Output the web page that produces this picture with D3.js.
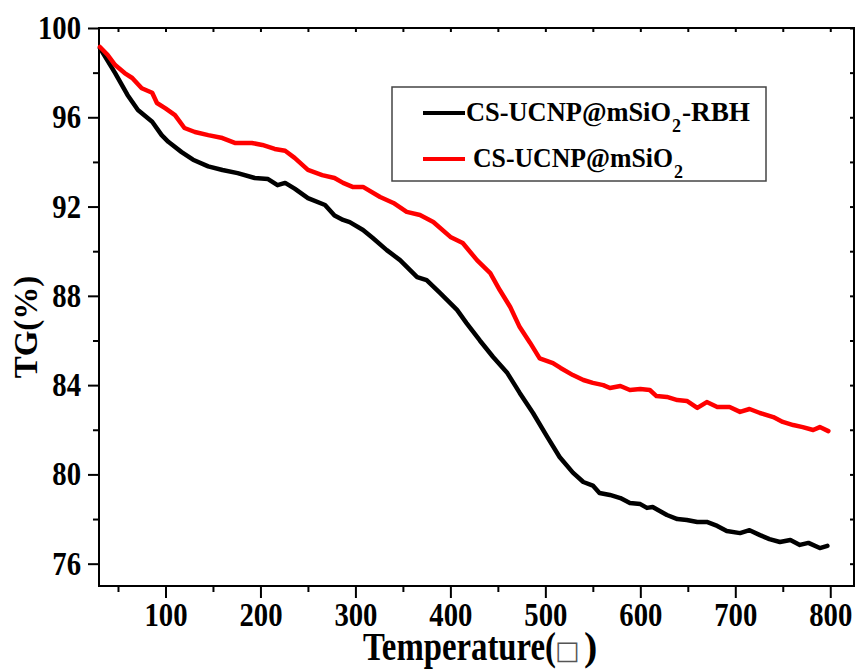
<!DOCTYPE html>
<html>
<head>
<meta charset="utf-8">
<script src="https://cdn.jsdelivr.net/npm/d3@7"></script>
<style>
  body { margin: 0; background: #fff; }
  svg { display: block; }
</style>
</head>
<body>
<svg id="chart" width="858" height="670"></svg>
<script>
// temperature (C) and TG (%)
const tempRBH = [31, 47, 60, 71, 86, 96, 103, 117, 129, 145, 160, 176, 194, 208, 218, 226, 236, 250, 268, 278, 287,
  294, 308, 318, 333, 347, 365, 375, 389, 407, 417, 431, 445, 460, 473, 487, 502, 515, 529, 540, 550, 557, 568, 579,
  589, 600, 607, 613, 628, 639, 649, 660, 670, 681, 691, 705, 715, 726, 736, 747, 758, 768, 777, 789, 797];
const tgRBH = [99.1, 97.98, 97.0, 96.33, 95.8, 95.2, 94.9, 94.44, 94.1, 93.8, 93.64, 93.5, 93.28, 93.23, 92.96, 93.06, 92.8, 92.38, 92.07, 91.6, 91.4,
  91.3, 90.95, 90.6, 90.05, 89.6, 88.84, 88.7, 88.13, 87.37, 86.78, 86.0, 85.26, 84.54, 83.65, 82.75, 81.68, 80.78, 80.08, 79.66, 79.5, 79.17, 79.08, 78.94,
  78.72, 78.67, 78.5, 78.54, 78.18, 78.0, 77.96, 77.87, 77.87, 77.69, 77.46, 77.37, 77.5, 77.28, 77.1, 76.97, 77.06, 76.84, 76.93, 76.7, 76.8];

const tempSiO2 = [31, 39, 47, 57, 65, 75, 86, 91, 100, 110, 120, 131, 145, 160, 173, 191, 202, 215, 226, 236, 250, 265, 278, 287,
  297, 308, 326, 340, 354, 368, 382, 400, 413, 428, 442, 452, 463, 473, 484, 494, 508, 516, 529, 540, 550, 561, 568, 579, 589,
  600, 610, 617, 628, 639, 649, 660, 670, 681, 694, 705, 715, 726, 740, 750, 761, 771, 782, 789, 798];
const tgSiO2 = [99.15, 98.8, 98.34, 97.98, 97.76, 97.3, 97.1, 96.64, 96.4, 96.1, 95.52, 95.34, 95.2, 95.07, 94.85, 94.85, 94.76, 94.58, 94.5, 94.18, 93.64, 93.41, 93.28, 93.06,
  92.88, 92.88, 92.43, 92.16, 91.76, 91.62, 91.31, 90.64, 90.37, 89.6, 89.02, 88.26, 87.5, 86.6, 85.89, 85.2, 84.99, 84.77, 84.45, 84.23, 84.1, 84.0, 83.87, 83.96, 83.78,
  83.83, 83.78, 83.51, 83.47, 83.33, 83.29, 82.98, 83.24, 83.02, 83.02, 82.8, 82.93, 82.75, 82.57, 82.35, 82.21, 82.12, 81.99, 82.12, 81.94];

const seriesNames = ["CS-UCNP@mSiO2-RBH", "CS-UCNP@mSiO2"];
const seriesColors = ["#000000", "#ff0000"];

const xMajor = [100, 200, 300, 400, 500, 600, 700, 800];
const xMinor = [50, 150, 250, 350, 450, 550, 650, 750];
const yMajor = [76, 80, 84, 88, 92, 96, 100];
const yMinor = [78, 82, 86, 90, 94, 98];

const FONT = "'Liberation Serif', 'Times New Roman', Times, serif";

const margin = {left: 99, top: 28, right: 4, bottom: 84};
const width = 858 - margin.left - margin.right;
const height = 670 - margin.top - margin.bottom;

const svg = d3.select("#chart");
const g = svg.append("g").attr("transform", `translate(${margin.left},${margin.top})`);

const x = d3.scaleLinear().domain([30, 825]).range([0, width]);
const y = d3.scaleLinear().domain([75, 100]).range([height, 0]);

// squeeze text horizontally like the original export
function squeeze(sel, k) {
    sel.each(function() {
        const w = this.getComputedTextLength();
        d3.select(this).attr("textLength", w * k).attr("lengthAdjust", "spacingAndGlyphs");
    });
}

function styleAxis(ax) {
    ax.attr("font-family", null).attr("font-size", null);
    ax.select(".domain").remove();
    ax.selectAll("line").attr("stroke", "#000").attr("stroke-width", 2);
    ax.selectAll("text")
        .style("font-family", FONT).style("font-weight", "bold")
        .style("font-size", "33px").attr("fill", "#000");
}

// bottom axis
const gx = g.append("g").attr("transform", `translate(0,${height})`)
    .call(d3.axisBottom(x).tickValues(xMajor).tickSize(12).tickPadding(5).tickFormat(d3.format("d")));
styleAxis(gx);
gx.selectAll("text").call(squeeze, 0.87);
const gxm = g.append("g").attr("transform", `translate(0,${height})`)
    .call(d3.axisBottom(x).tickValues(xMinor).tickSize(6).tickFormat(""));
styleAxis(gxm);

// left axis
const gy = g.append("g")
    .call(d3.axisLeft(y).tickValues(yMajor).tickSize(11).tickPadding(7).tickFormat(d3.format("d")));
styleAxis(gy);
gy.selectAll("text").call(squeeze, 0.87);
const gym = g.append("g")
    .call(d3.axisLeft(y).tickValues(yMinor).tickSize(6).tickFormat(""));
styleAxis(gym);

// top and right: small inward ticks
const gt = g.append("g")
    .call(d3.axisTop(x).tickValues(xMajor.concat(xMinor)).tickSize(-4).tickFormat(""));
styleAxis(gt);
const gr = g.append("g").attr("transform", `translate(${width},0)`)
    .call(d3.axisRight(y).tickValues(yMajor.concat(yMinor)).tickSize(-4).tickFormat(""));
styleAxis(gr);

// frame
g.append("rect")
    .attr("width", width).attr("height", height)
    .attr("fill", "none").attr("stroke", "#000").attr("stroke-width", 2);

// curves
const line = d3.line()
    .x(d => x(d[0]))
    .y(d => y(d[1]));

const series = [
    d3.zip(tempRBH, tgRBH),
    d3.zip(tempSiO2, tgSiO2)
];

g.selectAll("path.curve")
    .data(series)
    .enter()
    .append("path")
        .attr("class", "curve")
        .attr("d", line)
        .attr("fill", "none")
        .attr("stroke", (d, i) => seriesColors[i])
        .attr("stroke-width", 4.5)
        .attr("stroke-linejoin", "round")
        .attr("stroke-linecap", "round");

// legend
const leg = svg.append("g");
leg.append("rect")
    .attr("x", 392).attr("y", 87).attr("width", 374).attr("height", 94)
    .attr("fill", "#fff").attr("stroke", "#444").attr("stroke-width", 1.5);

const legRows = [
    {y: 113, textX: 466, w1: 205, w2: 68},
    {y: 159, textX: 473, w1: 200, w2: 0}
];
legRows.forEach(function(r, i) {
    leg.append("line")
        .attr("x1", 423).attr("x2", 465).attr("y1", r.y).attr("y2", r.y)
        .attr("stroke", seriesColors[i]).attr("stroke-width", 4);
    const parts = seriesNames[i].split("2");
    const tx = leg.append("g")
        .style("font-family", FONT).style("font-weight", "bold").attr("fill", "#000");
    tx.append("text")
        .attr("x", r.textX).attr("y", r.y + 8)
        .style("font-size", "28px")
        .attr("textLength", r.w1).attr("lengthAdjust", "spacingAndGlyphs")
        .text(parts[0]);
    tx.append("text")
        .attr("x", r.textX + r.w1 + 1).attr("y", r.y + 19)
        .style("font-size", "18px")
        .text("2");
    if (parts[1]) {
        tx.append("text")
            .attr("x", r.textX + r.w1 + 11).attr("y", r.y + 8)
            .style("font-size", "28px")
            .attr("textLength", r.w2).attr("lengthAdjust", "spacingAndGlyphs")
            .text(parts[1]);
    }
});

// axis titles
svg.append("text")
    .attr("x", 363).attr("y", 660)
    .style("font-family", FONT).style("font-weight", "bold").style("font-size", "40px")
    .attr("fill", "#000")
    .attr("textLength", 193).attr("lengthAdjust", "spacingAndGlyphs")
    .text("Temperature(");
svg.append("text")
    .attr("x", 555).attr("y", 659)
    .style("font-family", "'DejaVu Sans', sans-serif").style("font-size", "26px")
    .attr("fill", "#555")
    .text("\u25A1");
svg.append("text")
    .attr("x", 584).attr("y", 660)
    .style("font-family", FONT).style("font-weight", "bold").style("font-size", "40px")
    .attr("fill", "#000")
    .text(")");

svg.append("text")
    .attr("transform", "translate(37,327) rotate(-90)")
    .attr("text-anchor", "middle")
    .style("font-family", FONT).style("font-weight", "bold").style("font-size", "33px")
    .attr("fill", "#000")
    .text("TG(%)");
</script>
</body>
</html>
